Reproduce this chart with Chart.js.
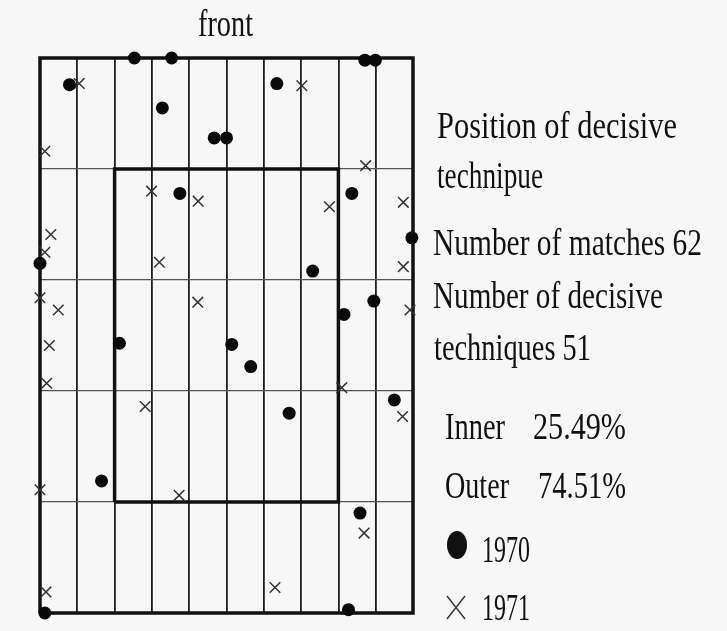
<!DOCTYPE html>
<html>
<head>
<meta charset="utf-8">
<script src="https://cdn.jsdelivr.net/npm/chart.js@4.4.1/dist/chart.umd.min.js"></script>
<style>
  html, body { margin: 0; padding: 0; background: #f7f7f7; }
  #wrap { width: 727px; height: 631px; position: relative; }
</style>
</head>
<body>
<div id="wrap"><canvas id="mat" width="727" height="631"></canvas></div>
<script>
// mat is 10 columns x 5 rows, y = 5 is the front edge
const matCols = [0, 10];
const matRows = [0, 5];
const innerCols = [2, 8];
const innerRows = [1, 4];

// decisive technique positions, 1970 (dots)
const x1970 = [2.53, 3.53, 0.79, 3.28, 4.67, 5.00, 6.35, 8.71, 8.99, 3.75, 0.00, 8.36, 9.97,
  7.31, 8.95, 8.15, 2.13, 5.14, 5.65, 9.50, 6.68, 1.65, 0.13, 8.58, 8.27];
const y1970 = [5.00, 5.00, 4.76, 4.55, 4.28, 4.28, 4.77, 4.98, 4.98, 3.78, 3.15, 3.78, 3.38,
  3.08, 2.81, 2.69, 2.43, 2.42, 2.22, 1.92, 1.80, 1.19, 0.00, 0.90, 0.03];

// 1971 (crosses)
const x1971 = [1.05, 7.02, 0.13, 8.73, 2.99, 4.24, 0.29, 0.13, 3.20, 0.00, 0.49, 4.23, 7.76,
  9.74, 9.74, 9.92, 0.25, 0.18, 2.82, 8.09, 9.72, 0.00, 3.73, 0.16, 6.30, 8.69];
const y1971 = [4.77, 4.75, 4.16, 4.03, 3.80, 3.71, 3.41, 3.25, 3.16, 2.84, 2.73, 2.80, 3.66,
  3.70, 3.12, 2.73, 2.41, 2.07, 1.86, 2.03, 1.77, 1.11, 1.06, 0.19, 0.23, 0.72];

const matches = 62;
const techniques = 51;
const innerPct = '25.49%';
const outerPct = '74.51%';

function toPoints(xs, ys) {
  return xs.map((x, i) => ({ x: x, y: ys[i] }));
}

function box(cols, rows) {
  return [
    { x: cols[0], y: rows[0] }, { x: cols[0], y: rows[1] },
    { x: cols[1], y: rows[1] }, { x: cols[1], y: rows[0] },
    { x: cols[0], y: rows[0] }
  ];
}

const SERIF = '"Liberation Serif", "DejaVu Serif", serif';

// text lines: [text, x, baseline, font px, max width]
const notes = [
  ['front', 198, 36, 37, 55],
  ['Position of decisive', 437, 138, 37, 240],
  ['technipue', 437, 188, 37, 106],
  ['Number of matches ' + matches, 433, 255, 37, 269],
  ['Number of decisive', 433, 308, 37, 230],
  ['techniques ' + techniques, 434, 360, 37, 157],
  ['Inner', 445, 439, 37, 60],
  [innerPct, 533, 439, 37, 93],
  ['Outer', 445, 498, 37, 64],
  [outerPct, 538, 498, 37, 88],
  ['1970', 482, 562, 37, 48],
  ['1971', 482, 620, 37, 48]
];

const textPlugin = {
  id: 'matText',
  beforeDraw(chart) {
    const ctx = chart.ctx;
    ctx.save();
    ctx.fillStyle = '#f7f7f7';
    ctx.fillRect(0, 0, chart.width, chart.height);
    ctx.restore();
  },
  afterDraw(chart) {
    const ctx = chart.ctx;
    ctx.save();
    ctx.fillStyle = '#111';
    ctx.textBaseline = 'alphabetic';
    notes.forEach(n => {
      ctx.font = n[3] + 'px ' + SERIF;
      ctx.fillText(n[0], n[1], n[2], n[4]);
    });
    // legend glyphs
    ctx.beginPath();
    ctx.ellipse(457, 545, 10, 14, 0, 0, Math.PI * 2);
    ctx.fill();
    ctx.strokeStyle = '#333';
    ctx.lineWidth = 1.4;
    ctx.beginPath();
    ctx.moveTo(447, 596); ctx.lineTo(465, 619);
    ctx.moveTo(465, 596); ctx.lineTo(447, 619);
    ctx.stroke();
    ctx.restore();
  }
};

new Chart(document.getElementById('mat'), {
  type: 'scatter',
  data: {
    datasets: [
      {
        label: '1970',
        data: toPoints(x1970, y1970),
        pointStyle: 'circle',
        pointRadius: 6.5,
        backgroundColor: '#0a0a0a',
        borderColor: '#0a0a0a',
        borderWidth: 0,
        clip: false,
        order: 0
      },
      {
        label: '1971',
        data: toPoints(x1971, y1971),
        pointStyle: 'crossRot',
        pointRadius: 7.5,
        borderColor: '#333',
        borderWidth: 1.5,
        clip: false,
        order: 0
      },
      {
        label: 'outer',
        type: 'line',
        data: box(matCols, matRows),
        borderColor: '#111',
        borderWidth: 3.5,
        pointRadius: 0,
        fill: false,
        clip: false,
        order: 2
      },
      {
        label: 'inner',
        type: 'line',
        data: box(innerCols, innerRows),
        borderColor: '#111',
        borderWidth: 3.5,
        pointRadius: 0,
        fill: false,
        clip: false,
        order: 1
      }
    ]
  },
  options: {
    responsive: false,
    animation: false,
    events: [],
    layout: { padding: { left: 40, top: 58, right: 314, bottom: 18 } },
    plugins: {
      legend: { display: false },
      tooltip: { enabled: false }
    },
    scales: {
      x: {
        type: 'linear', min: 0, max: 10,
        ticks: { display: false, stepSize: 1 },
        grid: { color: '#1e1e1e', lineWidth: 1.8, drawTicks: false },
        border: { display: false }
      },
      y: {
        type: 'linear', min: 0, max: 5,
        ticks: { display: false, stepSize: 1 },
        grid: { color: '#555', lineWidth: 1.3, drawTicks: false },
        border: { display: false }
      }
    }
  },
  plugins: [textPlugin]
});
</script>
</body>
</html>
